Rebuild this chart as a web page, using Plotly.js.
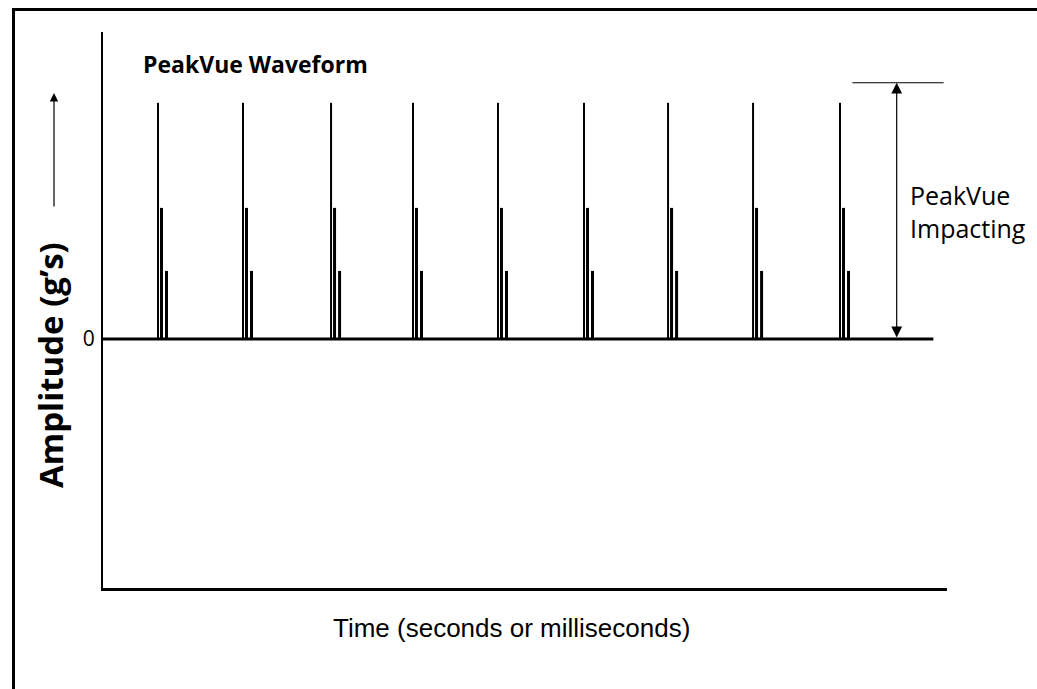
<!DOCTYPE html>
<html>
<head>
<meta charset="utf-8">
<script src="https://cdn.plot.ly/plotly-3.0.1.min.js"></script>
<style>
html,body{margin:0;padding:0;background:#fff;}
#chart{width:1037px;height:689px;}
</style>
</head>
<body>
<div id="chart"></div>
<script>
// Impact times (ms) of each PeakVue impact cluster
const impactTimes = [6.45, 16.42, 26.75, 36.36, 46.33, 56.42, 66.28, 76.25, 86.45];
// Each impact: main peak, followed by two decaying ringing peaks
const peakOffsets = [0, 0.41, 1.0];        // ms after the impact
const peakAmplitudes = [10.0, 5.55, 2.88]; // g's
// Baseline extent (ms)
const baselineTimes = [0, 97.4];
// PeakVue impacting dimension marker
const markerTime = 93.1;
const markerTop = 10.85;
const markerRefLine = [87.9, 98.6];

function spikeSeries(k) {
  const xs = [], ys = [];
  impactTimes.forEach(t => {
    xs.push(t + peakOffsets[k], t + peakOffsets[k], null);
    ys.push(0, peakAmplitudes[k], null);
  });
  return {x: xs, y: ys};
}

const traces = [];
traces.push({
  x: baselineTimes, y: [0, 0], type: 'scatter', mode: 'lines',
  line: {color: '#000', width: 3}, hoverinfo: 'skip'
});
const widths = [2, 3, 3];
for (let k = 0; k < 3; k++) {
  const s = spikeSeries(k);
  traces.push({
    x: s.x, y: s.y, type: 'scatter', mode: 'lines',
    line: {color: '#000', width: widths[k]}, hoverinfo: 'skip'
  });
}
traces.push({
  x: markerRefLine, y: [markerTop, markerTop], type: 'scatter', mode: 'lines',
  line: {color: '#000', width: 1}, hoverinfo: 'skip'
});

const W = 1037, H = 689;
const L = 103, R = 90, T = 32, B = 101;
const pw = W - L - R, ph = H - T - B;
const px = x => (x - L) / pw;
const py = y => (H - B - y) / ph;

const layout = {
  width: W, height: H,
  margin: {l: L, r: R, t: T, b: B, pad: 0},
  paper_bgcolor: '#fff', plot_bgcolor: '#fff',
  showlegend: false,
  xaxis: {
    range: [0, 99.0], showline: true, linecolor: '#000', linewidth: 3,
    showgrid: false, zeroline: false, showticklabels: false, ticks: ''
  },
  yaxis: {
    range: [-10.55, 13.0], showline: true, linecolor: '#000', linewidth: 2,
    showgrid: false, zeroline: false, ticks: '',
    tickvals: [0], ticktext: ['0'], ticklabelstandoff: 2,
    tickfont: {family: 'Open Sans, sans-serif', size: 21, color: '#000'}
  },
  shapes: [{
    type: 'path', xref: 'paper', yref: 'paper',
    path: `M ${px(13.5)},${py(720)} L ${px(13.5)},${py(9.5)} L ${px(1060)},${py(9.5)}`,
    line: {color: '#000', width: 3}
  }],
  annotations: [
    {
      x: markerTime, y: markerTop, xref: 'x', yref: 'y',
      ax: markerTime, ay: 0, axref: 'x', ayref: 'y',
      text: '', showarrow: true, arrowside: 'end+start',
      arrowhead: 2, arrowsize: 1.8, arrowwidth: 1.2, arrowcolor: '#000',
      standoff: 0, startstandoff: 0
    },
    {
      x: px(54), y: py(93), xref: 'paper', yref: 'paper',
      ax: 0, ay: 115, text: '', showarrow: true,
      arrowhead: 2, arrowsize: 1.4, arrowwidth: 1.2, arrowcolor: '#000'
    },
    {
      x: px(141), y: py(64), xref: 'paper', yref: 'paper',
      xanchor: 'left', yanchor: 'middle', showarrow: false,
      text: '<b>PeakVue Waveform</b>',
      font: {family: 'Open Sans, sans-serif', size: 23, color: '#000'}
    },
    {
      x: px(908), y: py(211), xref: 'paper', yref: 'paper',
      xanchor: 'left', yanchor: 'middle', showarrow: false, align: 'left',
      text: 'PeakVue<br>Impacting',
      font: {family: 'Open Sans, sans-serif', size: 25, color: '#000'}
    },
    {
      x: px(50), y: py(365), xref: 'paper', yref: 'paper',
      xanchor: 'center', yanchor: 'middle', showarrow: false, textangle: -90,
      text: '<b>Amplitude (g’s)</b>',
      font: {family: 'Open Sans, sans-serif', size: 33, color: '#000'}
    },
    {
      x: px(511), y: py(628), xref: 'paper', yref: 'paper',
      xanchor: 'center', yanchor: 'middle', showarrow: false,
      text: 'Time (seconds or milliseconds)',
      font: {family: 'Liberation Sans, Arial, sans-serif', size: 26, color: '#000'}
    }
  ]
};

Plotly.newPlot('chart', traces, layout, {staticPlot: true, displayModeBar: false});
</script>
</body>
</html>
